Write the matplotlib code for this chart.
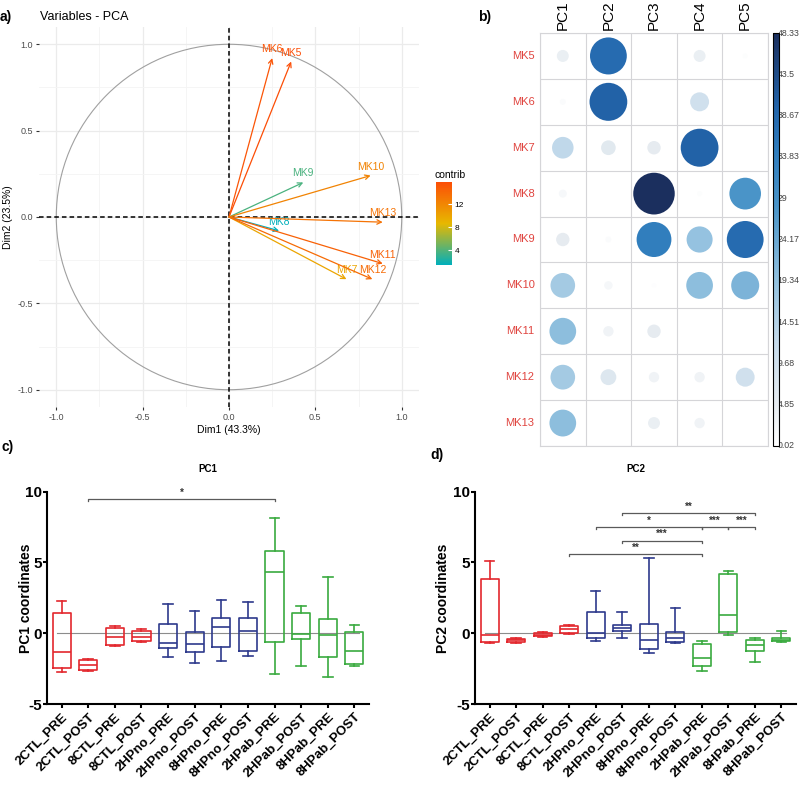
import numpy as np
import matplotlib as mpl
import matplotlib.pyplot as plt
from matplotlib.colors import LinearSegmentedColormap, Normalize
from matplotlib.patches import Circle

plt.rcParams['font.family'] = ['Liberation Sans', 'DejaVu Sans']
plt.rcParams['axes.unicode_minus'] = False

W, H = 800, 787

# ---- a) PCA variables (correlation circle)
var_names = ['MK5', 'MK6', 'MK7', 'MK8', 'MK9', 'MK10', 'MK11', 'MK12', 'MK13']
dim1 = [0.36, 0.25, 0.68, 0.29, 0.43, 0.82, 0.89, 0.83, 0.89]
dim2 = [0.90, 0.92, -0.36, -0.08, 0.20, 0.24, -0.27, -0.36, -0.03]
contrib = [15.8, 15.3, 9.9, 1.5, 3.8, 12.2, 14.5, 13.8, 13.3]

# ---- b) contributions of variables to PCs
pc_names = ['PC1', 'PC2', 'PC3', 'PC4', 'PC5']
contrib_pc = [
    [4.0, 38.0, 0.05, 4.0, 0.7],    # MK5
    [1.0, 40.0, 0.05, 10.0, 0.05],  # MK6
    [13.0, 6.0, 5.0, 40.0, 0.05],   # MK7
    [1.8, 0.05, 48.33, 0.7, 28.0],  # MK8
    [5.0, 1.0, 34.0, 19.0, 38.0],   # MK9
    [17.0, 2.0, 0.5, 20.0, 22.0],   # MK10
    [20.0, 3.0, 5.0, 0.05, 0.05],   # MK11
    [17.0, 7.0, 3.0, 3.0, 10.0],    # MK12
    [20.0, 0.05, 4.0, 3.0, 0.05],   # MK13
]
cbar_b_labels = ['0.02', '4.85', '9.68', '14.51', '19.34', '24.17', '29', '33.83', '38.67', '43.5', '48.33']

# ---- c) / d) box plots of PC coordinates
groups = ['2CTL_PRE', '2CTL_POST', '8CTL_PRE', '8CTL_POST', '2HPno_PRE', '2HPno_POST',
          '8HPno_PRE', '8HPno_POST', '2HPab_PRE', '2HPab_POST', '8HPab_PRE', '8HPab_POST']

pc1_lo = [-2.75, -2.65, -0.90, -0.59, -1.70, -2.12, -1.95, -1.60, -2.90, -2.30, -3.06, -2.35]
pc1_q1 = [-2.47, -2.60, -0.82, -0.54, -1.06, -1.30, -1.00, -1.25, -0.64, -0.40, -1.65, -2.19]
pc1_med = [-1.30, -2.24, -0.28, -0.24, -0.70, -0.78, 0.42, 0.19, 4.36, -0.05, -0.16, -1.25]
pc1_q3 = [1.46, -1.88, 0.35, 0.14, 0.66, 0.12, 1.10, 1.10, 5.84, 1.46, 1.00, 0.07]
pc1_hi = [2.30, -1.80, 0.52, 0.28, 2.07, 1.58, 2.35, 2.21, 8.17, 1.93, 4.00, 0.59]
pc1_sig = [(1, 8, 9.5, '*')]

pc2_lo = [-0.70, -0.68, -0.26, -0.05, -0.52, -0.31, -1.41, -0.71, -2.64, -0.09, -2.00, -0.61]
pc2_q1 = [-0.59, -0.64, -0.21, 0.00, -0.35, 0.16, -1.13, -0.64, -2.35, 0.07, -1.27, -0.57]
pc2_med = [-0.12, -0.47, -0.12, 0.28, 0.05, 0.35, -0.47, -0.35, -1.74, 1.30, -0.82, -0.47]
pc2_q3 = [3.81, -0.38, 0.02, 0.54, 1.53, 0.59, 0.66, 0.07, -0.78, 4.17, -0.47, -0.33]
pc2_hi = [5.11, -0.33, 0.09, 0.61, 3.01, 1.53, 5.35, 1.81, -0.52, 4.38, -0.31, 0.16]
pc2_sig = [(5, 10, 8.5, '**'), (4, 8, 7.5, '*'), (8, 9, 7.5, '***'), (9, 10, 7.5, '***'),
           (5, 8, 6.55, '***'), (3, 8, 5.6, '**')]

group_colors = ['#E3282E'] * 4 + ['#2E3A8C'] * 4 + ['#3AAA3F'] * 4


def px_box(l, t, r, b):
    return [l / W, 1 - b / H, (r - l) / W, (b - t) / H]


fig = plt.figure(figsize=(W / 100, H / 100), dpi=100)

# ================= a) =================
cmap_a = LinearSegmentedColormap.from_list('contrib', ['#00AFBB', '#E7B800', '#FC4E07'])
norm_a = Normalize(min(contrib), max(contrib))

ax = fig.add_axes(px_box(39, 27, 419, 407))
ax.set_xlim(-1.1, 1.1)
ax.set_ylim(-1.1, 1.1)
for s in ax.spines.values():
    s.set_visible(False)
ax.set_xticks([-1.0, -0.5, 0.0, 0.5, 1.0])
ax.set_yticks([-1.0, -0.5, 0.0, 0.5, 1.0])
ax.set_xticks([-0.75, -0.25, 0.25, 0.75], minor=True)
ax.set_yticks([-0.75, -0.25, 0.25, 0.75], minor=True)
ax.grid(True, which='major', color='#EBEBEB', lw=0.9)
ax.grid(True, which='minor', color='#F4F4F4', lw=0.6)
ax.set_axisbelow(True)
ax.tick_params(which='major', length=2.5, width=0.8, color='#333333', labelsize=6.5,
               labelcolor='#4D4D4D', pad=2)
ax.tick_params(which='minor', length=0)
ax.set_xlabel('Dim1 (43.3%)', fontsize=7.5, labelpad=2)
ax.set_ylabel('Dim2 (23.5%)', fontsize=7.5, labelpad=3)
ax.add_patch(Circle((0, 0), 1, fill=False, ec='#A0A0A0', lw=0.8))
ax.axhline(0, color='black', ls=(0, (3, 2)), lw=1.1)
ax.axvline(0, color='black', ls=(0, (3, 2)), lw=1.1)
for name, x, y, c in zip(var_names, dim1, dim2, contrib):
    col = cmap_a(norm_a(c))
    ax.annotate('', xy=(x, y), xytext=(0, 0),
                arrowprops=dict(arrowstyle='->', color=col, lw=0.9, shrinkA=0, shrinkB=0,
                                mutation_scale=8))
    ax.annotate(name, xy=(x, y), xytext=(0, 6.5), textcoords='offset points',
                ha='center', va='center', color=col, fontsize=7.5)

fig.text(0 / W, 1 - 17 / H, 'a)', fontsize=10, fontweight='bold', va='center')
fig.text(40 / W, 1 - 17 / H, 'Variables - PCA', fontsize=9, va='center')

cax_a = fig.add_axes(px_box(436, 182, 452, 265))
cb_a = mpl.colorbar.ColorbarBase(cax_a, cmap=cmap_a, norm=norm_a)
cb_a.outline.set_visible(False)
cb_a.set_ticks([4, 8, 12])
cax_a.tick_params(direction='in', length=3, color='white', labelsize=6, pad=2)
fig.text(435 / W, 1 - 175 / H, 'contrib', fontsize=7.5, va='center')

# ================= b) =================
cmap_b = LinearSegmentedColormap.from_list('blues', [
    (0.0, '#FFFFFF'), (0.1, '#E6EBF0'), (0.25, '#C6DBEB'), (0.4, '#92C1DF'),
    (0.58, '#4A94C8'), (0.72, '#2E7BBC'), (0.82, '#2264AA'), (1.0, '#1B2F5E')])
vals_b = np.array(contrib_pc)
norm_b = Normalize(0.02, vals_b.max())

axb = fig.add_axes(px_box(540, 33, 768, 446))
nrow, ncol = vals_b.shape
axb.set_xlim(0, ncol)
axb.set_ylim(nrow, 0)
axb.set_xticks(np.arange(ncol + 1))
axb.set_yticks(np.arange(nrow + 1))
axb.tick_params(length=0, labelbottom=False, labelleft=False)
axb.grid(True, color='#D5D5D8', lw=0.8)
for s in axb.spines.values():
    s.set_color('#D5D5D8')
    s.set_linewidth(0.8)
for i in range(nrow):
    for j in range(ncol):
        v = vals_b[i, j]
        r = 0.455 * np.sqrt(v / vals_b.max())
        axb.add_patch(Circle((j + 0.5, i + 0.5), r, fc=cmap_b(norm_b(v)), ec='none'))
for j, name in enumerate(pc_names):
    axb.text(j + 0.5, -0.07, name, rotation=90, ha='center', va='bottom', fontsize=11,
             clip_on=False)
for i, name in enumerate(var_names):
    axb.text(-0.12, i + 0.5, name, ha='right', va='center', fontsize=8, color='#E0443F',
             clip_on=False)
fig.text(478 / W, 1 - 17 / H, 'b)', fontsize=10, fontweight='bold', va='center')

cax_b = fig.add_axes(px_box(773, 33, 779, 446))
cb_b = mpl.colorbar.ColorbarBase(cax_b, cmap=cmap_b, norm=norm_b)
cb_b.outline.set_linewidth(0.8)
cb_b.set_ticks([])
cax_b.set_zorder(10)
tick_vals = np.linspace(0.02, vals_b.max(), len(cbar_b_labels))
for tv, lab in zip(tick_vals, cbar_b_labels):
    yy = 446 - (tv - 0.02) / (vals_b.max() - 0.02) * 413
    fig.text(777.5 / W, 1 - yy / H, lab, fontsize=6.3, color='#444444', va='center',
             ha='left')


# ================= c) d) =================
def box_panel(rect, lo, q1, med, q3, hi, sigs, title, ylabel, letter, letter_xy, ylab_x):
    ax = fig.add_axes(rect)
    stats = [dict(whislo=a, q1=b, med=c, q3=d, whishi=e, fliers=[])
             for a, b, c, d, e in zip(lo, q1, med, q3, hi)]
    pos = np.arange(len(groups))
    ax.axhline(0, xmin=0.03, xmax=0.97, color='#8C8C8C', lw=0.8, zorder=0)
    art = ax.bxp(stats, positions=pos, widths=0.68, capwidths=0.36, showfliers=False,
                 manage_ticks=False)
    for k, col in enumerate(group_colors):
        art['boxes'][k].set(color=col, lw=1.2)
        art['medians'][k].set(color=col, lw=1.2)
        for w in art['whiskers'][2 * k:2 * k + 2] + art['caps'][2 * k:2 * k + 2]:
            w.set(color=col, lw=1.2)
    ax.set_xlim(-0.55, len(groups) - 0.45)
    ax.set_ylim(-5, 10)
    ax.set_yticks([-5, 0, 5, 10])
    ax.set_xticks(pos)
    ax.set_xticklabels(groups, rotation=45, ha='right', va='top', rotation_mode='anchor',
                       fontweight='bold', fontsize=9.5)
    for lab in ax.get_yticklabels():
        lab.set_fontweight('bold')
    ax.tick_params(axis='y', labelsize=11, length=3, width=1.5, pad=0.5)
    ax.tick_params(axis='x', length=3, width=1.5, pad=2)
    for s in ['top', 'right']:
        ax.spines[s].set_visible(False)
    for s in ['left', 'bottom']:
        ax.spines[s].set_linewidth(1.5)
    ax.set_ylabel(ylabel, fontsize=10, fontweight='bold')
    ax.yaxis.set_label_coords(ylab_x, 0.5)
    ax.set_title(title, fontsize=7, fontweight='bold', pad=14)
    for x1, x2, y, star in sigs:
        ax.plot([x1, x1, x2, x2], [y - 0.15, y, y, y - 0.15], color='#5A5A5A', lw=0.9,
                clip_on=False)
        ax.text((x1 + x2) / 2, y + 0.1, star, ha='center', va='bottom', fontsize=7,
                fontweight='bold', color='#333333', clip_on=False)
    fig.text(letter_xy[0] / W, 1 - letter_xy[1] / H, letter, fontsize=10,
             fontweight='bold', va='center')
    return ax


box_panel(px_box(47, 491.7, 369, 704), pc1_lo, pc1_q1, pc1_med, pc1_q3, pc1_hi, pc1_sig,
          'PC1', 'PC1 coordinates', 'c)', (2, 447), -0.043)
box_panel(px_box(475, 491.7, 796, 704), pc2_lo, pc2_q1, pc2_med, pc2_q3, pc2_hi, pc2_sig,
          'PC2', 'PC2 coordinates', 'd)', (430, 455), -0.078)

fig.savefig('out.png', dpi=100)
